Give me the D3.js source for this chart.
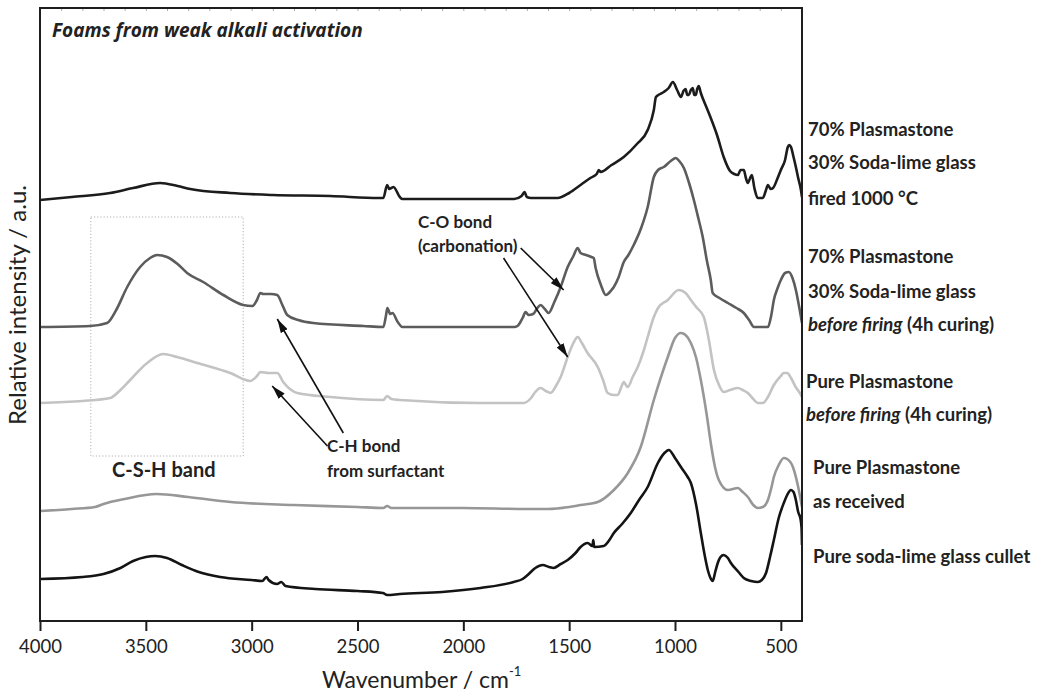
<!DOCTYPE html>
<html><head><meta charset="utf-8">
<script src="https://cdn.jsdelivr.net/npm/d3@7"></script>
<style>
body{margin:0;background:#fff;}
svg{display:block;}
text{fill:#222;}
</style></head>
<body>
<svg id="chart" width="1038" height="694" font-family="Lato, 'Open Sans', sans-serif"></svg>
<script>
// ---- DATA: [wavenumber cm^-1, relative intensity (a.u., offset)] ----
const fired1000 = [[4000,421],[3850,424],[3669,428],[3560,433],[3432,438],[3350,435],[3290,432],[3101,428],[2900,426],[2628,425],[2400,423],[2378,423],[2360,436],[2350,432],[2340,433],[2330,434],[2300,424],[2288,422],[2000,422],[1760,422],[1725,425],[1711,429],[1700,424],[1680,423],[1555,423],[1500,428],[1446,436],[1400,443],[1370,447],[1360,451],[1351,449],[1300,456],[1242,464],[1180,477],[1129,491],[1100,511],[1090,524],[1070,527],[1053,529],[1030,533],[1010,539],[990,531],[972,524],[960,530],[950,532],[942,526],[935,526],[925,531],[916,533],[909,526],[902,526],[895,532],[888,535],[878,528],[850,513],[831,503],[800,485],[770,464],[740,450],[720,447],[703,446],[690,451],[675,451],[665,443],[656,438],[645,443],[637,446],[625,433],[609,423],[585,423],[570,431],[561,436],[548,432],[537,433],[515,443],[500,451],[480,461],[467,474],[460,476],[452,474],[440,464],[429,454],[419,444],[405,431],[400,424]];

const before70 = [[4000,294],[3763,295],[3683,298],[3640,311],[3588,334],[3527,354],[3480,363],[3447,366],[3400,364],[3350,357],[3305,348],[3229,339],[3134,326],[3040,316],[2997,315],[2975,321],[2959,328],[2945,327],[2910,327],[2879,326],[2855,316],[2832,306],[2780,301],[2709,298],[2472,295],[2378,294],[2365,306],[2359,313],[2345,307],[2335,308],[2310,299],[2288,294],[1760,294],[1744,295],[1720,303],[1706,309],[1692,306],[1670,307],[1650,313],[1635,316],[1615,312],[1597,308],[1570,319],[1540,334],[1507,354],[1480,365],[1460,373],[1446,368],[1420,366],[1395,364],[1384,363],[1375,353],[1350,336],[1327,326],[1300,331],[1289,334],[1266,344],[1242,359],[1220,366],[1195,376],[1160,393],[1129,414],[1100,444],[1080,451],[1053,454],[1020,460],[996,463],[980,460],[958,453],[935,439],[911,421],[890,403],[869,384],[850,361],[831,341],[822,328],[790,323],[750,318],[710,313],[675,308],[650,301],[627,294],[561,294],[545,306],[533,321],[515,333],[500,341],[480,348],[462,349],[445,343],[429,331],[415,316],[400,298]];

const pureBefore = [[4000,218],[3800,220],[3669,223],[3620,231],[3574,241],[3494,258],[3418,267],[3352,264],[3257,258],[3101,248],[3007,240],[2975,245],[2959,249],[2920,248],[2879,248],[2851,239],[2784,228],[2628,224],[2378,221],[2360,225],[2340,222],[2300,221],[1919,218],[1715,218],[1680,223],[1660,229],[1635,233],[1610,230],[1588,228],[1560,236],[1540,244],[1507,264],[1480,278],[1460,284],[1440,278],[1413,268],[1365,254],[1340,241],[1318,228],[1290,226],[1271,226],[1250,236],[1242,239],[1232,236],[1223,234],[1200,244],[1176,254],[1150,269],[1129,284],[1100,304],[1080,313],[1034,321],[982,331],[950,328],[925,321],[900,314],[864,304],[840,281],[816,251],[790,235],[770,229],[740,231],[703,233],[680,231],[656,228],[630,222],[609,218],[585,218],[561,224],[533,236],[500,245],[486,248],[470,248],[452,243],[430,234],[410,228],[400,224]];

const pureReceived = [[4000,110],[3850,112],[3740,114],[3700,117],[3600,122],[3450,127],[3300,124],[3100,119],[2800,116],[2500,114],[2378,113],[2360,115],[2340,113],[2000,113],[1700,112],[1602,112],[1500,114],[1446,116],[1365,119],[1289,131],[1223,148],[1162,174],[1100,221],[1034,264],[1000,283],[972,288],[950,286],[925,278],[900,263],[878,241],[850,206],[831,178],[810,153],[793,141],[750,131],[703,133],[680,129],[656,124],[630,116],[609,113],[585,114],[561,121],[545,133],[533,144],[510,156],[486,163],[470,162],[443,154],[420,136],[400,114]];

const glassCullet = [[4000,42],[3800,44],[3700,47],[3620,53],[3560,60],[3500,64],[3456,65],[3400,63],[3330,56],[3250,49],[3149,44],[3000,41],[2950,40],[2930,44],[2920,41],[2880,37],[2860,39],[2840,35],[2700,32],[2500,30],[2380,28],[2360,26],[2300,27],[2100,29],[1919,33],[1762,39],[1720,42],[1696,46],[1660,53],[1625,56],[1595,54],[1574,53],[1540,57],[1507,61],[1470,68],[1446,74],[1413,78],[1390,75],[1386,81],[1382,74],[1337,75],[1310,81],[1289,88],[1250,97],[1209,108],[1170,121],[1129,134],[1081,158],[1050,168],[1029,171],[1000,163],[972,154],[940,144],[925,138],[900,116],[878,88],[860,66],[845,51],[830,42],[822,40],[810,49],[798,58],[785,64],[770,66],[750,63],[736,58],[700,49],[675,43],[640,40],[609,39],[590,41],[570,48],[550,65],[533,81],[510,103],[486,118],[470,126],[452,131],[440,129],[429,121],[418,109],[408,103],[402,93],[400,76]];

const xTicks = [4000,3500,3000,2500,2000,1500,1000,500];
const seriesColors = ["#1c1c1c","#5c5c5c","#c3c3c3","#979797","#141414"];

// ---- LAYOUT ----
const W = 1038, H = 694;
const m = {left:40, right:236, top:8, bottom:73};
const svg = d3.select("#chart");
const x = d3.scaleLinear().domain([4000,400]).range([m.left, W - m.right]);
const y = d3.scaleLinear().domain([0,613]).range([H - m.bottom, m.top]);

svg.append("defs").append("clipPath").attr("id","clip")
  .append("rect").attr("x",m.left).attr("y",m.top)
  .attr("width",W-m.left-m.right).attr("height",H-m.top-m.bottom);

// top small inward minor ticks
const topAx = d3.axisTop(x).tickValues(d3.range(3900,400,-100)).tickSize(-3).tickFormat("");
const gTop = svg.append("g").attr("transform",`translate(0,${m.top})`).call(topAx);
gTop.select(".domain").remove();
gTop.selectAll("line").attr("stroke","#aaa").attr("stroke-width",1);

// dotted C-S-H box
svg.append("rect")
  .attr("x",x(3760)).attr("y",y(404))
  .attr("width",x(3040)-x(3760)).attr("height",y(165)-y(404))
  .attr("fill","none").attr("stroke","#b0b0b0").attr("stroke-width",1)
  .attr("stroke-dasharray","1.2,2");

// curves
const line = d3.line().x(d=>x(d[0])).y(d=>y(d[1])).curve(d3.curveMonotoneX);
const series = [fired1000, before70, pureBefore, pureReceived, glassCullet];
svg.append("g").attr("clip-path","url(#clip)")
  .selectAll("path").data(series).join("path")
  .attr("d",line).attr("fill","none")
  .attr("stroke",(d,i)=>seriesColors[i])
  .attr("stroke-width",2.6).attr("stroke-linejoin","round");

// frame
svg.append("rect").attr("x",m.left).attr("y",m.top)
  .attr("width",W-m.left-m.right).attr("height",H-m.top-m.bottom)
  .attr("fill","none").attr("stroke","#1e1e1e").attr("stroke-width",2);

// bottom axis
const gB = svg.append("g").attr("transform",`translate(0,${H-m.bottom})`);
gB.call(d3.axisBottom(x).tickValues(d3.range(3900,400,-100).filter(v=>v%500!==0)).tickSize(5).tickFormat(""));
gB.call(d3.axisBottom(x).tickValues(xTicks).tickSize(10).tickPadding(9).tickFormat(d3.format("d")));
gB.attr("font-family",null).attr("font-size",null);
gB.selectAll(".domain").remove();
gB.selectAll("line").attr("stroke","#1e1e1e").attr("stroke-width",2);
gB.selectAll("text").style("font-size","18.5px").style("fill","#222").style("font-family","Lato");

// axis titles
svg.append("text").attr("x",322).attr("y",688).attr("font-size",23)
  .text("Wavenumber / cm").append("tspan").attr("dy",-12).attr("font-size",13).text("-1");
svg.append("text").attr("transform","translate(26,305) rotate(-90)")
  .attr("text-anchor","middle").attr("font-size",24).text("Relative intensity / a.u.");

// title
svg.append("text").attr("x",52).attr("y",37)
  .style("font-family","'Open Sans', sans-serif").style("font-size","19px")
  .style("font-weight","bold").style("font-style","italic").text("Foams from weak alkali activation");

// right labels
const labels = [
  {x:808,y:136,t:[["70% Plasmastone",""]]},
  {x:808,y:169,t:[["30% Soda-lime glass",""]]},
  {x:808,y:205,t:[["fired 1000 °C",""]]},
  {x:808,y:263,t:[["70% Plasmastone",""]]},
  {x:808,y:298,t:[["30% Soda-lime glass",""]]},
  {x:808,y:331,t:[["before firing","i"],[" (4h curing)",""]]},
  {x:806,y:388,t:[["Pure Plasmastone",""]]},
  {x:806,y:421,t:[["before firing","i"],[" (4h curing)",""]]},
  {x:813,y:474,t:[["Pure Plasmastone",""]]},
  {x:813,y:508,t:[["as received",""]]},
  {x:813,y:563,t:[["Pure soda-lime glass cullet",""]]}
];
labels.forEach(l=>{
  const t = svg.append("text").attr("x",l.x).attr("y",l.y).attr("font-size",18.5).attr("font-weight","bold");
  l.t.forEach(p=>t.append("tspan").attr("font-style",p[1]?"italic":"normal").text(p[0]));
});

// annotations
svg.append("text").attr("x",112).attr("y",477).attr("font-size",20).attr("font-weight","bold").text("C-S-H band");
svg.append("text").attr("x",327).attr("y",452).attr("font-size",17).attr("font-weight","bold").text("C-H bond");
svg.append("text").attr("x",327).attr("y",477).attr("font-size",17).attr("font-weight","bold").text("from surfactant");
svg.append("text").attr("x",418).attr("y",228).attr("font-size",17).attr("font-weight","bold").text("C-O bond");
svg.append("text").attr("x",418).attr("y",252).attr("font-size",17).attr("font-weight","bold").text("(carbonation)");

svg.select("defs").append("marker").attr("id","arr").attr("viewBox","0 0 14 8")
  .attr("refX",14).attr("refY",4).attr("markerWidth",14).attr("markerHeight",8)
  .attr("markerUnits","userSpaceOnUse").attr("orient","auto")
  .append("path").attr("d","M0,0 L14,4 L0,8 Z").attr("fill","#111");

const arrows = [
  [[2567,188],[2879,302]],
  [[2642,175],[2903,235]],
  [[1729,373],[1526,331]],
  [[1810,363],[1507,264]]
];
svg.append("g").selectAll("line").data(arrows).join("line")
  .attr("x1",d=>x(d[0][0])).attr("y1",d=>y(d[0][1]))
  .attr("x2",d=>x(d[1][0])).attr("y2",d=>y(d[1][1]))
  .attr("stroke","#111").attr("stroke-width",1.6).attr("marker-end","url(#arr)");
</script>
</body></html>
